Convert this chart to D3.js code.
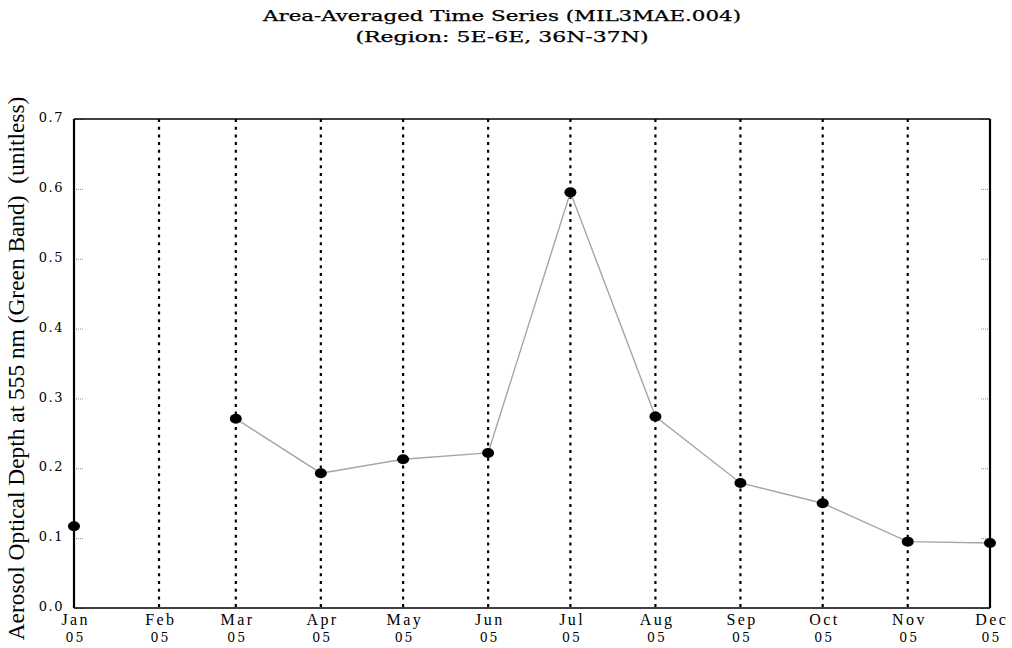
<!DOCTYPE html>
<html>
<head>
<meta charset="utf-8">
<script src="https://cdn.jsdelivr.net/npm/d3@7"></script>
<style>
  body { margin: 0; background: #fff; }
  svg { display: block; }
</style>
</head>
<body>
<svg id="chart" width="1012" height="648"></svg>
<script>
// ---- data ----
const months = ["Jan","Feb","Mar","Apr","May","Jun","Jul","Aug","Sep","Oct","Nov","Dec"];
const yearLabels = ["05","05","05","05","05","05","05","05","05","05","05","05"];
const values = [0.117, null, 0.271, 0.193, 0.213, 0.222, 0.595, 0.274, 0.179, 0.150, 0.095, 0.093];
const yTicks = [0.0, 0.1, 0.2, 0.3, 0.4, 0.5, 0.6, 0.7];
const titleLines = ["Area-Averaged Time Series (MIL3MAE.004)", "(Region: 5E-6E, 36N-37N)"];
const yTitle = "Aerosol Optical Depth at 555 nm (Green Band)\u00a0\u00a0(unitless)";

(function () {
const dates = months.map((m, i) => new Date(2005, i, 1));
const data = dates.map((d, i) => ({ date: d, value: values[i] }));

const svg = d3.select("#chart");
const pL = 74, pR = 990, pT = 119, pB = 608;

const x = d3.scaleTime().domain([dates[0], dates[11]]).range([pL, pR]);
const y = d3.scaleLinear().domain([0, 0.7]).range([pB, pT]);

const wideFont = "DejaVu Serif";

// title (wide face emulated by stretching glyphs)
const titleW = [478, 293];
svg.selectAll("text.title").data(titleLines).enter().append("text")
  .attr("class", "title")
  .attr("x", (d, i) => 502 - titleW[i] / 2).attr("y", (d, i) => 21 + i * 21)
  .attr("textLength", (d, i) => titleW[i]).attr("lengthAdjust", "spacingAndGlyphs")
  .style("font-family", wideFont).style("font-size", "14px")
  .attr("fill", "#000").attr("stroke", "#000").attr("stroke-width", 0.25)
  .text(d => d);

// vertical dotted grid lines
svg.append("g").selectAll("line").data(dates.slice(1, 11)).enter().append("line")
  .attr("x1", d => x(d)).attr("x2", d => x(d))
  .attr("y1", pT).attr("y2", pB)
  .attr("stroke", "#000").attr("stroke-width", 2.2).attr("stroke-dasharray", "3,4.7");

// y axis left (inward ticks + labels)
const yAxis = d3.axisLeft(y).tickValues(yTicks).tickFormat(d3.format(".1f"))
  .tickSizeInner(-10).tickSizeOuter(0).tickPadding(5);
const gy = svg.append("g").attr("transform", `translate(${pL},0)`).call(yAxis);
gy.select(".domain").remove();
gy.selectAll(".tick line").attr("stroke", "#888").attr("stroke-width", 1).attr("stroke-dasharray", "1,1");
gy.selectAll(".tick text")
  .style("font-family", wideFont).style("font-size", "13px").style("letter-spacing", "1.5px")
  .attr("fill", "#000").attr("x", -10).attr("dy", "0.2em");

// y axis right (inward ticks only)
const yAxisR = d3.axisRight(y).tickValues(yTicks).tickFormat("").tickSizeInner(-10).tickSizeOuter(0);
const gyr = svg.append("g").attr("transform", `translate(${pR},0)`).call(yAxisR);
gyr.select(".domain").remove();
gyr.selectAll(".tick line").attr("stroke", "#888").attr("stroke-width", 1).attr("stroke-dasharray", "1,1");

// x axis
const xAxis = d3.axisBottom(x).tickValues(dates).tickFormat((d, i) => months[i])
  .tickSizeInner(0).tickSizeOuter(0).tickPadding(6);
const gx = svg.append("g").attr("transform", `translate(0,${pB})`).call(xAxis);
gx.select(".domain").remove();
gx.selectAll(".tick text")
  .style("font-family", "Liberation Serif").style("font-size", "16px").style("letter-spacing", "2.4px")
  .attr("fill", "#000").attr("dy", "0.71em").attr("dx", 1.2);
gx.selectAll(".tick").append("text")
  .attr("y", 25).attr("dy", "0.71em").attr("dx", 1).attr("text-anchor", "middle")
  .style("font-family", wideFont).style("font-size", "12.5px").style("letter-spacing", "2px")
  .attr("fill", "#000")
  .text((d, i) => yearLabels[i]);

// frame
svg.append("line").attr("x1", pL).attr("x2", pR).attr("y1", pT).attr("y2", pT)
  .attr("stroke", "#000").attr("stroke-width", 1.5);
svg.append("line").attr("x1", pL).attr("x2", pR).attr("y1", pB).attr("y2", pB)
  .attr("stroke", "#000").attr("stroke-width", 1.5);
svg.append("line").attr("x1", pL).attr("x2", pL).attr("y1", pT).attr("y2", pB)
  .attr("stroke", "#000").attr("stroke-width", 2.2);
svg.append("line").attr("x1", pR).attr("x2", pR).attr("y1", pT).attr("y2", pB)
  .attr("stroke", "#000").attr("stroke-width", 2.2);

// line
const line = d3.line().defined(d => d.value !== null)
  .x(d => x(d.date)).y(d => y(d.value));
svg.append("path").datum(data).attr("d", line)
  .attr("fill", "none").attr("stroke", "#a6a6a6").attr("stroke-width", 1.4);

// points
svg.append("g").selectAll("ellipse").data(data.filter(d => d.value !== null)).enter().append("ellipse")
  .attr("cx", d => x(d.date)).attr("cy", d => y(d.value))
  .attr("rx", 6).attr("ry", 5)
  .attr("fill", "#000");

// y title
svg.append("text")
  .attr("transform", `translate(24,${(645 + 92) / 2}) rotate(-90)`)
  .attr("text-anchor", "middle")
  .style("font-family", "Liberation Serif").style("font-size", "23.4px")
  .attr("fill", "#000")
  .text(yTitle);
})();
</script>
</body>
</html>
